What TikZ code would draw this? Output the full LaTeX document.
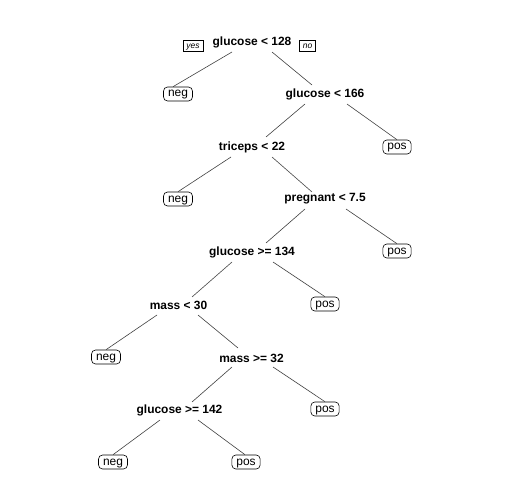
\documentclass[tikz,border=0pt]{standalone}
\usepackage{fontspec}
\setmainfont{Liberation Sans}
\begin{document}
\begin{tikzpicture}[x=1bp,y=-1bp,
        split/.style={inner sep=0pt,font=\fontsize{12}{14}\selectfont\bfseries},
        leaf/.style={draw,rounded corners=4bp,line width=0.6bp,inner xsep=4.5bp,
            inner ysep=1.5bp,text height=8.5bp,text depth=2.5bp,
            font=\fontsize{12}{14}\selectfont},
        tag/.style={draw,line width=0.5bp,inner xsep=3.5bp,inner ysep=1.5bp,
            text height=6bp,text depth=1.5bp,font=\fontsize{8.5}{10}\selectfont\itshape},
        branch/.style={line width=0.6bp,black!75}]
\useasboundingbox (0,0) rectangle (504,504);

\node[split] (root) at (252,42) {glucose < 128};
\node[tag] (yes) at (193,46) {yes};
\node[tag] (no) at (307.5,46) {no};

\node[leaf] (negA) at (178,94) {neg};
\node[split] (glucB) at (325,94) {glucose < 166};
\node[leaf] (posA) at (397,147) {pos};
\node[split] (tri) at (252,147) {triceps < 22};
\node[leaf] (negB) at (178,199) {neg};
\node[split] (preg) at (325,199) {pregnant < 7.5};
\node[leaf] (posB) at (397,251) {pos};
\node[split] (glucC) at (252,252) {glucose >= 134};
\node[split] (massA) at (178.5,305) {mass < 30};
\node[leaf] (posC) at (325,304) {pos};
\node[leaf] (negC) at (106,357) {neg};
\node[split] (massB) at (251.5,358) {mass >= 32};
\node[leaf] (posD) at (325,409) {pos};
\node[split] (glucD) at (179.5,410) {glucose >= 142};
\node[leaf] (negD) at (113,462) {neg};
\node[leaf] (posE) at (246,462) {pos};

% branches
\draw[branch] ([shift={(-20,10)}]root.center) -- ([xshift=-5bp]negA.north);
\draw[branch] ([shift={(20,10)}]root.center) -- ([shift={(-13,-9)}]glucB.center);
\draw[branch] ([shift={(-20,10)}]glucB.center) -- ([shift={(14,-10)}]tri.center);
\draw[branch] ([shift={(22,10)}]glucB.center) -- (posA.north);
\draw[branch] ([shift={(-21,10)}]tri.center) -- (negB.north);
\draw[branch] ([shift={(20,10)}]tri.center) -- ([shift={(-13,-7)}]preg.center);
\draw[branch] ([shift={(-20,10)}]preg.center) -- ([shift={(14,-9)}]glucC.center);
\draw[branch] ([shift={(21,10)}]preg.center) -- (posB.north);
\draw[branch] ([shift={(-20,10)}]glucC.center) -- ([shift={(13.5,-8)}]massA.center);
\draw[branch] ([shift={(21,10)}]glucC.center) -- (posC.north);
\draw[branch] ([shift={(-21.5,10)}]massA.center) -- (negC.north);
\draw[branch] ([shift={(19.5,10)}]massA.center) -- ([shift={(-13.5,-10)}]massB.center);
\draw[branch] ([shift={(-19.5,9)}]massB.center) -- ([shift={(12.5,-8)}]glucD.center);
\draw[branch] ([shift={(21.5,9)}]massB.center) -- (posD.north);
\draw[branch] ([shift={(-19.5,10)}]glucD.center) -- (negD.north);
\draw[branch] ([shift={(18.5,10)}]glucD.center) -- ([xshift=-1bp]posE.north);

\end{tikzpicture}
\end{document}
